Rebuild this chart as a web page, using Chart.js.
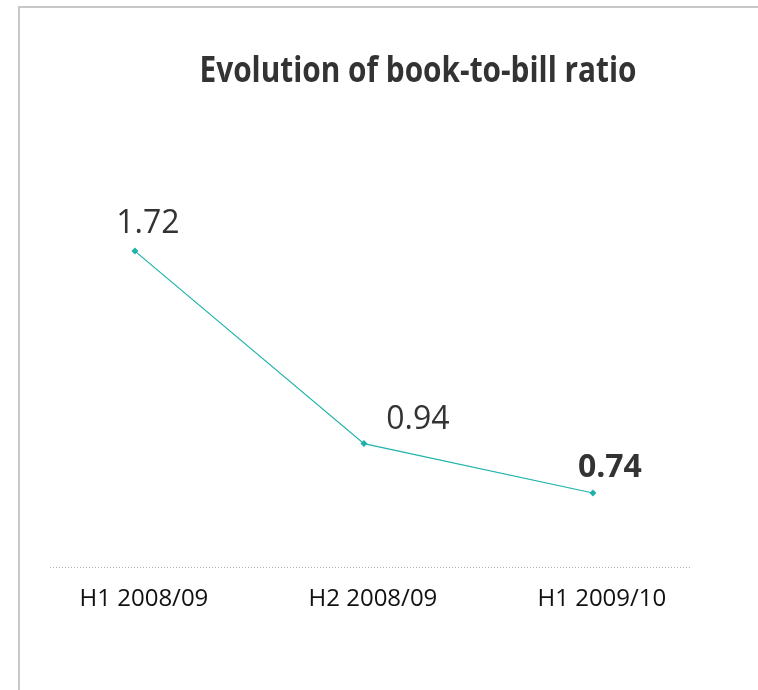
<!DOCTYPE html>
<html>
<head>
<meta charset="utf-8">
<script src="https://cdn.jsdelivr.net/npm/chart.js@4.4.1/dist/chart.umd.min.js"></script>
<style>
  html, body { margin: 0; padding: 0; background: #fff; }
  #wrap { position: relative; width: 758px; height: 690px; overflow: hidden; }
  #frame { position: absolute; left: 18px; top: 6px; right: -10px; bottom: -10px;
           border-top: 2px solid #c8c8c8; border-left: 2px solid #c8c8c8; }
  canvas { position: absolute; left: 0; top: 0; }
</style>
</head>
<body>
<div id="wrap">
  <div id="frame"></div>
  <canvas id="chart" width="758" height="690"></canvas>
</div>
<script>
// Book-to-bill ratio per half-year
const chartTitle = 'Evolution of book-to-bill ratio';
const periods = ['H1 2008/09', 'H2 2008/09', 'H1 2009/10'];
const bookToBill = [1.72, 0.94, 0.74];
const emphasised = [false, false, true];

const TEAL = '#1db3ab';
const TEXT = '#333333';

// Condensed bold heading, squeezed horizontally to its box width
const headingPlugin = {
  id: 'heading',
  afterDraw(chart, args, opts) {
    const ctx = chart.ctx;
    ctx.save();
    ctx.font = `bold ${opts.size}px ${opts.family}`;
    const w = ctx.measureText(opts.text).width;
    const sx = opts.width / w;
    ctx.translate(opts.x, opts.y);
    ctx.scale(sx, 1);
    ctx.fillStyle = opts.color;
    ctx.textAlign = 'center';
    ctx.textBaseline = 'alphabetic';
    ctx.fillText(opts.text, 0, 0);
    ctx.restore();
  }
};

// Dotted base line along the bottom of the plot area
const baselinePlugin = {
  id: 'baseline',
  beforeDatasetsDraw(chart, args, opts) {
    const { ctx, chartArea } = chart;
    const y = Math.round(chartArea.bottom) + 0.5;
    ctx.save();
    ctx.strokeStyle = opts.color;
    ctx.lineWidth = 1;
    ctx.setLineDash(opts.dash);
    ctx.beginPath();
    ctx.moveTo(chartArea.left, y);
    ctx.lineTo(chartArea.right, y);
    ctx.stroke();
    ctx.restore();
  }
};

// Value labels next to each point
const valueLabelPlugin = {
  id: 'valueLabels',
  afterDatasetsDraw(chart, args, opts) {
    const ctx = chart.ctx;
    const meta = chart.getDatasetMeta(0);
    const values = chart.data.datasets[0].data;
    ctx.save();
    ctx.fillStyle = opts.color;
    ctx.textAlign = 'center';
    ctx.textBaseline = 'alphabetic';
    meta.data.forEach((pt, i) => {
      const off = opts.offsets[i];
      ctx.font = `${emphasised[i] ? 'bold' : 'normal'} ${opts.size}px ${opts.family}`;
      ctx.fillText(values[i].y.toFixed(2), pt.x + off[0], pt.y + off[1]);
    });
    ctx.restore();
  }
};

new Chart(document.getElementById('chart'), {
  type: 'line',
  data: {
    datasets: [{
      label: 'Book-to-bill',
      data: bookToBill.map((v, i) => ({ x: i, y: v })),
      borderColor: TEAL,
      backgroundColor: TEAL,
      borderWidth: 1.2,
      pointStyle: 'rectRot',
      pointRadius: 3.5,
      pointHoverRadius: 3.5,
      pointBorderWidth: 0,
      tension: 0,
      clip: false
    }]
  },
  options: {
    responsive: false,
    animation: false,
    devicePixelRatio: 1,
    layout: { padding: { left: 50, right: 68, top: 182, bottom: 0 } },
    scales: {
      x: {
        type: 'linear',
        min: -0.371,
        max: 2.424,
        afterBuildTicks(scale) {
          scale.ticks = periods.map((_, i) => ({ value: i }));
        },
        afterFit(scale) { scale.height = 123; },
        grid: { display: false, drawTicks: false },
        border: { display: false },
        ticks: {
          callback: (v) => periods[v],
          font: { family: '"Open Sans"', size: 24 },
          color: '#111111',
          padding: 18,
          labelOffset: 9,
          maxRotation: 0,
          autoSkip: false
        }
      },
      y: {
        display: false,
        min: 0.44,
        max: 2.0
      }
    },
    plugins: {
      legend: { display: false },
      tooltip: { enabled: false },
      title: { display: false },
      heading: {
        text: chartTitle, x: 418, y: 82, width: 437,
        size: 35, family: '"Open Sans"', color: TEXT
      },
      baseline: { color: '#b4b4b4', dash: [1, 2] },
      valueLabels: {
        size: 32, family: '"Open Sans"', color: TEXT,
        offsets: [[13, -18], [54, -15], [17, -16]]
      }
    }
  },
  plugins: [headingPlugin, baselinePlugin, valueLabelPlugin]
});
</script>
</body>
</html>
